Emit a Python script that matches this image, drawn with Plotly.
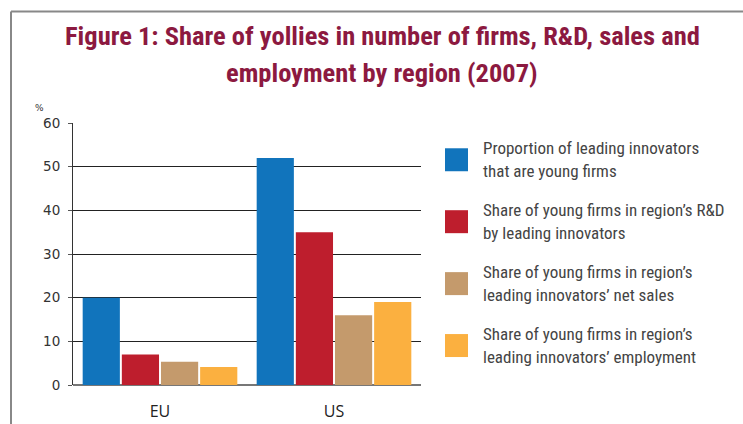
import plotly.graph_objects as go

# ---- data ----
regions = ["EU", "US"]
series_names = [
    "Proportion of leading innovators<br>that are young firms",
    "Share of young firms in region\u2019s R&D<br>by leading innovators",
    "Share of young firms in region\u2019s<br>leading innovators\u2019 net sales",
    "Share of young firms in region\u2019s<br>leading innovators\u2019 employment",
]
proportion_young = [20, 52]
share_rd = [7, 35]
share_sales = [5.3, 16]
share_employment = [4.1, 19]
series_values = [proportion_young, share_rd, share_sales, share_employment]
colors = ["#1174BC", "#BE1E2D", "#C49A6C", "#FBB040"]
title_lines = ["Figure 1: Share of yollies in number of firms, R&D, sales and",
               "employment by region (2007)"]
y_ticks = [0, 10, 20, 30, 40, 50, 60]

# ---- geometry (pixels) ----
W_PX, H_PX = 743, 424
L, R, T, B = 73, 421, 122.7, 385
PW, PH = R - L, B - T


def px(x):
    return (x - L) / PW


def py(y):
    return (B - y) / PH


fig = go.Figure()
for name, vals, col in zip(series_names, series_values, colors):
    fig.add_trace(go.Bar(x=regions, y=vals, name=name.replace("<br>", " "),
                         marker=dict(color=col, line=dict(width=0)),
                         showlegend=False))

title_font = dict(family="Liberation Sans Narrow, Roboto Condensed, Roboto, sans-serif",
                  size=26.5, color="#8C1940", weight="bold")
annotations = []
for i, line in enumerate(title_lines):
    annotations.append(dict(text=line, x=px(382), y=py(35 + 37 * i), xref="paper", yref="paper",
                            xanchor="center", yanchor="middle", showarrow=False, font=title_font))

annotations.append(dict(text="%", x=px(39), y=py(108), xref="paper", yref="paper",
                        xanchor="center", yanchor="middle", showarrow=False,
                        font=dict(family="DejaVu Sans", size=9, color="#333")))

shapes = []
leg_font = dict(family="Liberation Sans Narrow, Roboto Condensed, Roboto, sans-serif",
                size=17, color="#444")
for i, (name, col) in enumerate(zip(series_names, colors)):
    cy = 159.5 + 62 * i
    shapes.append(dict(type="rect", xref="paper", yref="paper",
                       x0=px(445), x1=px(468), y0=py(cy - 11.5), y1=py(cy + 11.5),
                       fillcolor=col, line=dict(width=0)))
    for j, part in enumerate(name.split("<br>")):
        annotations.append(dict(text=part, x=px(481), y=py(cy - 11.5 + 22.5 * j),
                                xref="paper", yref="paper", xanchor="left", yanchor="middle",
                                showarrow=False, font=leg_font))

# frame
shapes.append(dict(type="line", xref="paper", yref="paper", x0=px(11), x1=px(11),
                   y0=py(11), y1=py(H_PX + 5), line=dict(color="#888", width=2)))
shapes.append(dict(type="line", xref="paper", yref="paper", x0=px(11), x1=px(W_PX + 5),
                   y0=py(11), y1=py(11), line=dict(color="#888", width=2)))

fig.update_layout(
    width=W_PX, height=H_PX,
    margin=dict(l=L, r=W_PX - R, t=T, b=H_PX - B, pad=0, autoexpand=False),
    paper_bgcolor="white", plot_bgcolor="white",
    barmode="group", bargap=0.1, bargroupgap=0.05,
    annotations=annotations, shapes=shapes,
    showlegend=False,
    xaxis=dict(showgrid=False, ticks="", showline=False, automargin=False,
               tickfont=dict(family="Open Sans", size=16, color="#222"),
               ticklabelstandoff=15),
    yaxis=dict(range=[0, 60], tickvals=y_ticks, showgrid=True, gridcolor="#222", gridwidth=1,
               zeroline=True, zerolinecolor="#777", zerolinewidth=2, automargin=False,
               showline=True, linecolor="#333", linewidth=1,
               ticks="outside", ticklen=4, tickcolor="#555",
               tickfont=dict(family="DejaVu Sans", size=13.5, color="#333"),
               ticklabelstandoff=5),
)

fig.write_html("out.html", config={"displayModeBar": False},
               post_script="document.body.style.margin='0';")
